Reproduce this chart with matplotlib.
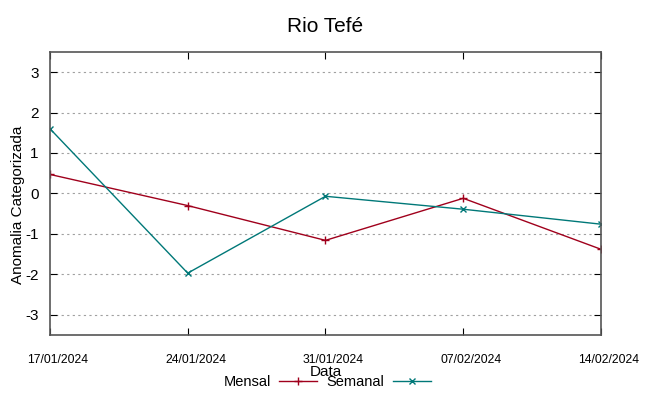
import matplotlib
matplotlib.use("Agg")
import matplotlib.pyplot as plt
import matplotlib.transforms as mtransforms
from datetime import datetime

plt.rcParams['font.family'] = ['Liberation Sans', 'DejaVu Sans']
plt.rcParams['axes.unicode_minus'] = False

# dados
datas = ["17/01/2024", "24/01/2024", "31/01/2024", "07/02/2024", "14/02/2024"]
mensal = [0.47, -0.30, -1.16, -0.12, -1.38]
semanal = [1.60, -1.97, -0.07, -0.39, -0.76]

x = [datetime.strptime(d, "%d/%m/%Y") for d in datas]

fig = plt.figure(figsize=(6.49, 3.96), dpi=100)
ax = fig.add_axes([0.077, 0.154, 0.849, 0.715])

ax.plot(x, mensal, color='#a0001c', lw=1, marker='+', ms=6, mew=1, label='Mensal')
ax.plot(x, semanal, color='#007878', lw=1, marker='x', ms=5, mew=1, label='Semanal')

ax.set_xlim(x[0], x[-1])
ax.set_ylim(-3.5, 3.5)
ax.set_yticks([-3, -2, -1, 0, 1, 2, 3])
ax.set_xticks(x)
ax.set_xticklabels(datas, fontsize=8.7)
ax.tick_params(axis='y', labelsize=11, direction='in', right=True, length=5, pad=8)
ax.tick_params(axis='x', direction='in', top=True, length=5, pad=14)
ax.yaxis.grid(True, linestyle=(0, (2, 3)), color='#a0a0a0', lw=0.8)

# rotulos de data levemente deslocados para a direita (como no gnuplot)
desloc = mtransforms.ScaledTranslation(8 / 100, 0, fig.dpi_scale_trans)
for lbl in ax.get_xticklabels():
    lbl.set_transform(lbl.get_transform() + desloc)

for s in ax.spines.values():
    s.set_color('#555555')
    s.set_linewidth(1.2)

ax.set_title('Rio Tefé', fontsize=15, pad=14)
ax.set_ylabel('Anomalia Categorizada', fontsize=11)
ax.yaxis.set_label_coords(-0.045, 0.46)
ax.set_xlabel('Data', fontsize=11, labelpad=-1)

fig.legend(loc='center', bbox_to_anchor=(327 / 649, 1 - 382 / 396), ncol=2,
           markerfirst=False, frameon=False, fontsize=10.5, handlelength=2.6,
           columnspacing=0.6, handletextpad=0.6, borderpad=0)

fig.savefig('out.png', dpi=100)
